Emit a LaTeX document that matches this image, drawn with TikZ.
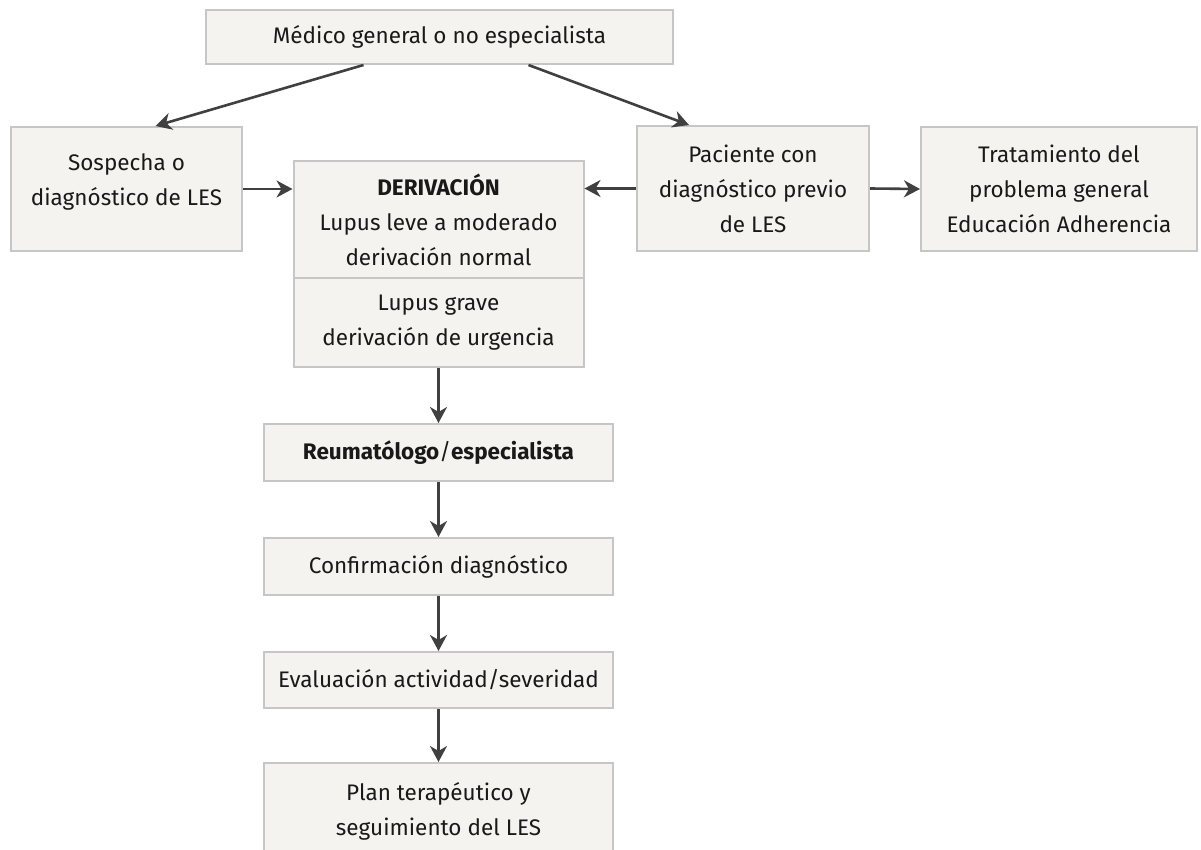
\documentclass[tikz,border=0pt]{standalone}
\usepackage{fontspec}
\setmainfont{Fira Sans}
\usetikzlibrary{arrows.meta}
\definecolor{boxfill}{HTML}{F4F3EF}
\definecolor{boxline}{HTML}{C6C6C6}
\definecolor{arrowcol}{HTML}{404040}
\begin{document}
\begin{tikzpicture}[x=1pt, y=-1pt,
    box/.style={draw=boxline, fill=boxfill, line width=2pt, align=center, inner sep=0pt,
        font=\fontsize{22.5}{35}\selectfont, text=black!90},
    flow/.style={-{Stealth[length=16pt, width=17pt, inset=5pt]}, line width=2.6pt, arrowcol}]
    \useasboundingbox (0,0) rectangle (1201,850);
    \node[box, minimum width=467, minimum height=54] (medico) at (439.5,37) {Médico general o no especialista};
    \node[box, minimum width=231, minimum height=124, text depth=19pt] (sospecha) at (126.5,189) {Sospecha o\\diagnóstico de LES};
    \node[box, minimum width=290, minimum height=117] (deriv) at (438.5,219.5) {\textbf{DERIVACIÓN}\\Lupus leve a moderado\\derivación normal};
    \node[box, minimum width=290, minimum height=89] (grave) at (438.5,322.5) {Lupus grave\\derivación de urgencia};
    \node[box, minimum width=232, minimum height=125] (paciente) at (753,188.5) {Paciente con\\diagnóstico previo\\de LES};
    \node[box, minimum width=276, minimum height=124] (tratamiento) at (1059,189) {Tratamiento del\\problema general\\Educación Adherencia};
    \node[box, minimum width=349, minimum height=57] (reuma) at (438.5,452.5) {\textbf{Reumatólogo}/\textbf{especialista}};
    \node[box, minimum width=349, minimum height=57] (confirma) at (438.5,566.5) {Confirmación diagnóstico};
    \node[box, minimum width=349, minimum height=56] (evalua) at (438.5,680) {Evaluación actividad/severidad};
    \node[box, minimum width=349, minimum height=96] (plan) at (438.5,811) {Plan terapéutico y\\seguimiento del LES};

    \draw[flow] ([xshift=-76]medico.south) -- ([xshift=29]sospecha.north);
    \draw[flow] ([xshift=89]medico.south) -- ([xshift=-64]paciente.north);
    \draw[flow] (sospecha.east) -- (sospecha.east -| deriv.west);
    \draw[flow] (paciente.west) -- (paciente.west -| deriv.east);
    \draw[flow] (paciente.east) -- (tratamiento.west);
    \draw[flow] (grave.south) -- (reuma.north);
    \draw[flow] (reuma) -- (confirma);
    \draw[flow] (confirma) -- (evalua);
    \draw[flow] (evalua) -- (plan);
\end{tikzpicture}
\end{document}
